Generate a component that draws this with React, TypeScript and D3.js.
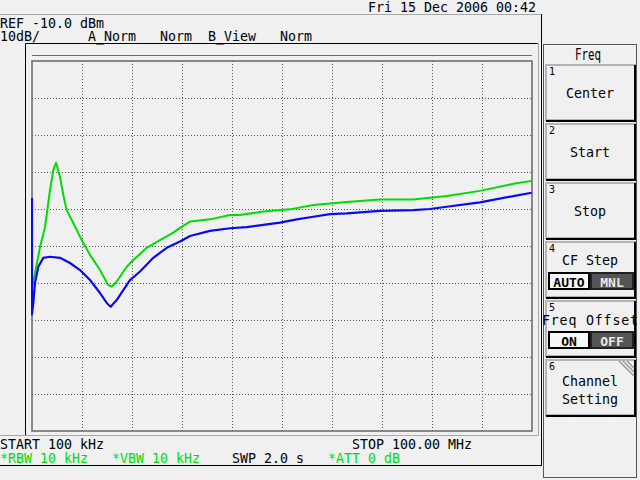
import React from 'react';
import * as d3 from 'd3';

// Trace A (green) – frequency in MHz, level in dBm
const greenFreq = [0.1, 0.3, 0.7, 1.7, 2.7, 3.7, 4.36, 4.9, 5.69, 6.4, 7.03, 8.35, 10.03, 11.69, 13.69, 15.28, 16.02, 17.02, 19.02, 20.34, 23.02, 25.67, 28.33, 29.67, 31.67, 35.66, 39.66, 41.66, 46.31, 51.65, 56.3, 62.98, 69.63, 76.28, 82.96, 89.61, 96.27, 99.94];
const greenLevel = [-71.0, -70.0, -67.3, -60.3, -54.9, -44.9, -39.5, -37.5, -41.3, -46.5, -50.3, -53.8, -58.4, -62.4, -66.5, -70.5, -71.0, -69.6, -65.6, -63.8, -60.5, -58.4, -56.4, -55.1, -53.4, -52.8, -51.6, -51.6, -50.7, -50.1, -48.9, -48.1, -47.4, -47.4, -46.5, -45.1, -43.2, -42.4];

// Trace B (blue)
const blueFreq = [0.1, 0.1, 0.36, 0.7, 1.36, 2.36, 3.7, 5.69, 7.69, 9.69, 11.69, 13.69, 15.03, 15.82, 17.02, 18.34, 19.68, 21.68, 24.34, 27.01, 29.67, 31.67, 35.66, 39.66, 43.0, 46.31, 49.65, 52.99, 56.3, 59.64, 62.98, 69.63, 76.28, 79.62, 82.96, 89.61, 96.27, 99.94];
const blueLevel = [-47.0, -78.5, -75.4, -70.0, -65.6, -63.2, -62.9, -63.2, -64.6, -66.5, -69.2, -72.7, -75.4, -76.4, -74.6, -71.9, -69.2, -66.9, -63.2, -60.5, -58.8, -57.3, -55.9, -55.2, -54.9, -54.3, -53.7, -52.8, -52.1, -51.4, -51.2, -50.5, -50.3, -50.0, -49.4, -48.2, -46.5, -45.6];

const startMHz = 0.1;
const stopMHz = 100;
const refLevel = -10;
const dbPerDiv = 10;
const divisions = 10;

const headerDate = 'Fri 15 Dec 2006 00:42';
const refText = 'REF -10.0 dBm';
const scaleText = '10dB/';
const traceLabels = [
  { col: 11, text: 'A_Norm' },
  { col: 20, text: 'Norm' },
  { col: 26, text: 'B_View' },
  { col: 35, text: 'Norm' },
];
const bottomLine1 = [
  { col: 0, text: 'START 100 kHz' },
  { col: 44, text: 'STOP 100.00 MHz' },
];
const bottomLine2 = [
  { col: 0, text: '*RBW 10 kHz', green: true },
  { col: 14, text: '*VBW 10 kHz', green: true },
  { col: 29, text: 'SWP 2.0 s', green: false },
  { col: 41, text: '*ATT 0 dB', green: true },
];
const buttonNums = ['1', '2', '3', '4', '5', '6'];
const buttonTops = [65, 124, 183, 242, 301, 360];

const MONO = '"DejaVu Sans Mono", monospace';
const GREEN = '#00dc00';

export default function App() {
  const x = d3.scaleLinear().domain([startMHz, stopMHz]).range([32, 532]);
  const y = d3.scaleLinear().domain([refLevel - dbPerDiv * divisions, refLevel]).range([431, 61]);

  const xGrid = d3.range(1, divisions).map((i) => startMHz + ((stopMHz - startMHz) * i) / divisions);
  const yGrid = d3.range(1, divisions).map((i) => refLevel - dbPerDiv * i);

  const line = d3
    .line<[number, number]>()
    .x((d) => x(d[0]))
    .y((d) => y(d[1]))
    .curve(d3.curveLinear);

  const greenPath = line(greenFreq.map((f, i) => [f, greenLevel[i]] as [number, number])) || '';
  const bluePath = line(blueFreq.map((f, i) => [f, blueLevel[i]] as [number, number])) || '';

  const cw = 8;
  const txt = { fontFamily: MONO, fontSize: 13.3 } as const;

  const Button = ({ i, children }: { i: number; children?: React.ReactNode }) => {
    const t = buttonTops[i];
    return (
      <g>
        <rect x={546} y={t} width={89} height={55} fill="#f0f0f0" stroke="#b4b4b4" strokeWidth={2} />
        <polyline points={`${635},${t} ${635},${t + 56} ${546},${t + 56}`} fill="none" stroke="#000" strokeWidth={2} />
        <text x={549} y={t + 10} fontFamily={MONO} fontSize={10} fill="#000">{buttonNums[i]}</text>
        {children}
      </g>
    );
  };

  const Toggle = ({ yTop, a, b }: { yTop: number; a: string; b: string }) => (
    <g>
      <rect x={549} y={yTop} width={40} height={16} fill="#f8f8f8" stroke="#000" strokeWidth={2} />
      <rect x={591} y={yTop} width={42} height={16} fill="#555" stroke="#222" strokeWidth={2} />
      <text x={569} y={yTop + 13.5} textAnchor="middle" fontFamily={MONO} fontWeight="bold" fontSize={13} fill="#000">{a}</text>
      <text x={612} y={yTop + 13.5} textAnchor="middle" fontFamily={MONO} fontWeight="bold" fontSize={13} fill="#e8e8e8">{b}</text>
    </g>
  );

  return (
    <svg width={640} height={480} style={{ position: 'fixed', left: 0, top: 0, display: 'block' }}>
      <rect x={0} y={0} width={640} height={480} fill="#f0f0f0" />

      {/* outer frames */}
      <line x1={0} y1={14.5} x2={541} y2={14.5} stroke="#a8a8a8" strokeWidth={1} />
      <line x1={541.5} y1={14} x2={541.5} y2={465.5} stroke="#000" strokeWidth={1} />
      <line x1={0} y1={465.5} x2={542} y2={465.5} stroke="#000" strokeWidth={1} />
      <line x1={25.5} y1={43.5} x2={538} y2={43.5} stroke="#000" strokeWidth={1} />
      <line x1={25.5} y1={43.5} x2={25.5} y2={435.5} stroke="#000" strokeWidth={1} />
      <line x1={538.5} y1={43.5} x2={538.5} y2={435.5} stroke="#a8a8a8" strokeWidth={1} />
      <line x1={0} y1={435.5} x2={538.5} y2={435.5} stroke="#a8a8a8" strokeWidth={1} />

      {/* header text */}
      <text x={368} y={12} {...txt} fill="#000">{headerDate}</text>
      <text x={0} y={27.5} {...txt} fill="#000">{refText}</text>
      <text x={0} y={41} {...txt} fill="#000">{scaleText}</text>
      {traceLabels.map((l) => (
        <text key={l.col} x={l.col * cw} y={41} {...txt} fill="#000">{l.text}</text>
      ))}

      {/* reference line */}
      <line x1={x(startMHz)} y1={55.5} x2={x(stopMHz)} y2={55.5} stroke="#d84040" strokeWidth={1.2} />

      {/* grid */}
      {xGrid.map((f) => (
        <line key={'gx' + f} x1={Math.round(x(f)) + 0.5} y1={y(refLevel)} x2={Math.round(x(f)) + 0.5} y2={y(refLevel - dbPerDiv * divisions)} stroke="#555" strokeWidth={1} strokeDasharray="1,2" />
      ))}
      {yGrid.map((v) => (
        <line key={'gy' + v} x1={x(startMHz)} y1={Math.round(y(v)) + 0.5} x2={x(stopMHz)} y2={Math.round(y(v)) + 0.5} stroke="#555" strokeWidth={1} strokeDasharray="1,2" />
      ))}
      <rect x={x(startMHz)} y={y(refLevel)} width={x(stopMHz) - x(startMHz)} height={y(refLevel - dbPerDiv * divisions) - y(refLevel)} fill="none" stroke="#666" strokeWidth={1.5} />

      {/* traces */}
      <defs>
        <clipPath id="plotClip">
          <rect x={31} y={61} width={502} height={370} />
        </clipPath>
      </defs>
      <g clipPath="url(#plotClip)">
        <path d={greenPath} fill="none" stroke={GREEN} strokeWidth={2} strokeLinejoin="round" />
        <path d={bluePath} fill="none" stroke="#0a0aee" strokeWidth={2.2} strokeLinejoin="round" />
      </g>

      {/* bottom annotations */}
      {bottomLine1.map((l) => (
        <text key={l.col} x={l.col * cw} y={448.5} {...txt} fill="#000">{l.text}</text>
      ))}
      {bottomLine2.map((l) => (
        <text key={l.col} x={l.col * cw} y={462.5} {...txt} fill={l.green ? GREEN : '#000'}>{l.text}</text>
      ))}

      {/* soft-key panel */}
      <rect x={543.5} y={44.5} width={93} height={433} fill="#f0f0f0" stroke="#555" strokeWidth={1} />
      <text x={588} y={60} {...txt} fontSize={15.5} textAnchor="middle" textLength={26} lengthAdjust="spacingAndGlyphs" fill="#000">Freq</text>

      <Button i={0}>
        <text x={590} y={98} {...txt} textAnchor="middle" fill="#000">Center</text>
      </Button>
      <Button i={1}>
        <text x={590} y={157} {...txt} textAnchor="middle" fill="#000">Start</text>
      </Button>
      <Button i={2}>
        <text x={590} y={216} {...txt} textAnchor="middle" fill="#000">Stop</text>
      </Button>
      <Button i={3}>
        <text x={590} y={265} {...txt} textAnchor="middle" fill="#000">CF Step</text>
        <Toggle yTop={273} a="AUTO" b="MNL" />
      </Button>
      <Button i={4}>
        <text x={590} y={325} {...txt} textAnchor="middle" textLength={96} lengthAdjust="spacing" fill="#000">Freq Offset</text>
        <Toggle yTop={332} a="ON" b="OFF" />
      </Button>
      <Button i={5}>
        <text x={590} y={386} {...txt} textAnchor="middle" fill="#000">Channel</text>
        <text x={590} y={404} {...txt} textAnchor="middle" fill="#000">Setting</text>
        {[0, 4, 8].map((o) => (
          <line key={o} x1={619 + o} y1={361} x2={634} y2={376 - o} stroke="#999" strokeWidth={1.5} />
        ))}
      </Button>
    </svg>
  );
}
